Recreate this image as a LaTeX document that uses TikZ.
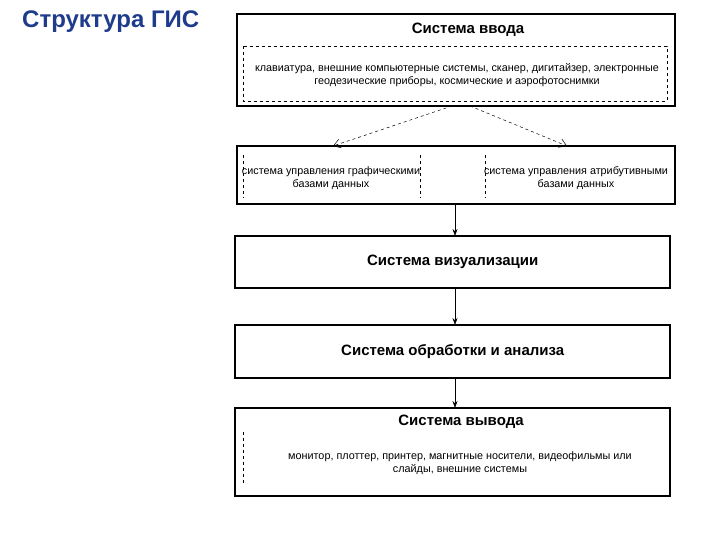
\documentclass[tikz,border=0pt]{standalone}
\usepackage{fontspec}
\setmainfont{Liberation Sans}
\usetikzlibrary{arrows.meta}
\definecolor{ttl}{HTML}{1F3C8C}
\begin{document}
\begin{tikzpicture}[x=1pt,y=-1pt,
 box/.style={draw,line width=1.4pt},
 dbox/.style={draw,dashed,line width=0.5pt},
 small/.style={font=\fontsize{10.8}{13}\selectfont,align=center},
 head/.style={font=\bfseries\fontsize{15}{17}\selectfont},
 arr/.style={-{Stealth[length=7pt,width=5pt]},line width=0.6pt},
 darr/.style={dashed,-{Straight Barb[length=7pt,width=9pt]},line width=0.5pt}]
\useasboundingbox (0,0) rectangle (720,540);
\node[anchor=west,text=ttl,font=\bfseries\fontsize{24}{28}\selectfont,inner sep=0pt] (title) at (22,22) {Структура ГИС};
% box 1
\draw[box] (237,14) rectangle (675,106);
\node[minimum width=438pt,minimum height=92pt,anchor=north west] (b1) at (237,14) {};
\node[head] (h1) at (468,30) {Система ввода};
\draw[dbox] (243,46) rectangle (667,101);
\node[small] (t1) at (457,75) {клавиатура, внешние компьютерные системы, сканер, дигитайзер, электронные\\геодезические приборы, космические и аэрофотоснимки};
% box 2
\draw[box] (237,146) rectangle (675,204);
\node[minimum width=438pt,minimum height=58pt,anchor=north west] (b2) at (237,146) {};
\draw[dashed] (243,155) -- (243,198) (420,155) -- (420,198) (485,155) -- (485,198);
\node[small] (t2a) at (331,178) {система управления графическими\\базами данных};
\node[small] (t2b) at (576,178) {система управления атрибутивными\\базами данных};
\coordinate (l1) at (333,146); \coordinate (r1) at (567,146);
\draw[darr] (452,106) -- (l1);
\draw[darr] (470,106) -- (r1);
% box 3
\draw[box] (235,236) rectangle (670,288);
\node[head,minimum width=435pt,minimum height=52pt,anchor=north west] (b3) at (235,236) {Система визуализации};
% box 4
\draw[box] (235,325) rectangle (670,378);
\node[head,minimum width=435pt,minimum height=53pt,anchor=north west] (b4) at (235,325) {Система обработки и анализа};
% box 5
\draw[box] (235,408) rectangle (670,496);
\node[minimum width=435pt,minimum height=88pt,anchor=north west] (b5) at (235,408) {};
\node[head] (h5) at (461,422) {Система вывода};
\draw[dashed] (243,432) -- (243,485);
\node[small] (t5) at (460,463) {монитор, плоттер, принтер, магнитные носители, видеофильмы или\\слайды, внешние системы};
\draw[arr] (455,204) -- (455,236);
\draw[arr] (455,288) -- (455,325);
\draw[arr] (455,378) -- (455,408);
\end{tikzpicture}
\end{document}
